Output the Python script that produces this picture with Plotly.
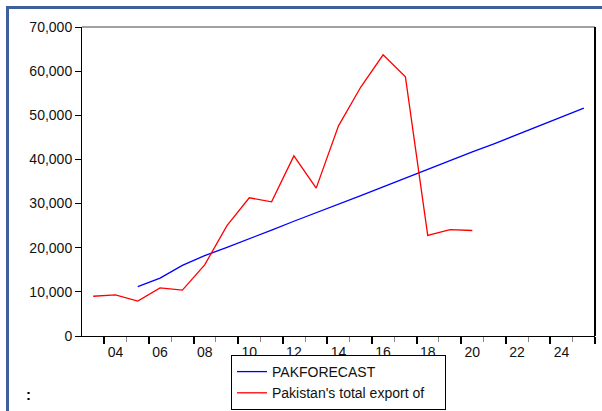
import plotly.graph_objects as go

# Annual values (US$ million)
years_export = list(range(2003, 2021))
export_values = [9000, 9300, 7900, 10900, 10400, 16100, 25000, 31300, 30400,
                 40800, 33500, 47600, 56400, 63700, 58700, 22800, 24100, 23900]

years_forecast = list(range(2005, 2026))
forecast_values = [11200, 13100, 16000, 18200, 20100, 22000, 24000, 26000, 27900,
                   29900, 31800, 33800, 35800, 37700, 39700, 41700, 43600, 45600,
                   47600, 49600, 51600]

label_years = list(range(2004, 2025, 2))
label_text = [f"{y % 100:02d}" for y in label_years]

y_ticks = list(range(0, 70001, 10000))

FONT = "Liberation Sans, Arial, sans-serif"
W, H = 602, 411
ML, MR, MT, MB = 82, 7, 27, 75
PW, PH = W - ML - MR, H - MT - MB

# year boundaries: dark ticks before even years, light ticks before odd years
dark_bounds = [y - 0.5 for y in range(2004, 2027, 2)]
light_bounds = [y - 0.5 for y in range(2005, 2026, 2)]
x_range = [2002.5, 2025.5]

# trailing no-break spaces widen the legend box a little
PAD = "\u00a0" * 4

fig = go.Figure()
fig.add_trace(go.Scatter(x=years_forecast, y=forecast_values, mode="lines",
                         name="PAKFORECAST", line=dict(color="#0000ff", width=1.3)))
fig.add_trace(go.Scatter(x=years_export, y=export_values, mode="lines",
                         name="Pakistan's total export of" + PAD,
                         line=dict(color="#ff0000", width=1.3)))
# helper trace so the boundary-tick axis is drawn
fig.add_trace(go.Scatter(x=[x_range[0]], y=[0], xaxis="x2", mode="markers",
                         marker=dict(opacity=0), showlegend=False, hoverinfo="skip"))

fig.update_layout(
    width=W, height=H,
    margin=dict(l=ML, r=MR, t=MT, b=MB, autoexpand=False),
    paper_bgcolor="white", plot_bgcolor="white",
    font=dict(family=FONT, size=14, color="#111111"),
    showlegend=True,
    legend=dict(
        x=(231 - ML) / PW, y=(MT + PH - 355) / PH, xanchor="left", yanchor="top",
        bordercolor="black", borderwidth=1, bgcolor="white",
        font=dict(family=FONT, size=14, color="#111111"),
        tracegroupgap=0, itemwidth=30,
    ),
    xaxis=dict(
        range=x_range, tickmode="array", tickvals=label_years, ticktext=label_text,
        ticks="outside", ticklen=3, tickcolor="rgba(0,0,0,0)",
        showline=True, linecolor="black", linewidth=1, mirror=False,
        showgrid=False, zeroline=False,
        tickfont=dict(family=FONT, size=14, color="#111111"),
        minor=dict(tickmode="array", tickvals=light_bounds, ticks="outside",
                   ticklen=5, tickcolor="#888888", tickwidth=1, showgrid=False),
    ),
    xaxis2=dict(
        range=x_range, overlaying="x", side="bottom", anchor="y",
        tickmode="array", tickvals=dark_bounds, ticks="outside", ticklen=7,
        tickcolor="black", tickwidth=2, showticklabels=False,
        showline=False, showgrid=False, zeroline=False,
    ),
    yaxis=dict(
        range=[0, 70000], tickmode="array", tickvals=y_ticks, tickformat=",",
        ticks="outside", ticklen=6, tickcolor="black",
        showline=True, linecolor="black", linewidth=1,
        showgrid=False, zeroline=False,
        tickfont=dict(family=FONT, size=14, color="#111111"),
    ),
    shapes=[
        # plot frame: top edge and right edge
        dict(type="line", xref="paper", yref="paper", x0=0, x1=1, y0=1, y1=1,
             line=dict(color="#444444", width=1)),
        dict(type="line", xref="paper", yref="paper", x0=1, x1=1, y0=0, y1=1,
             line=dict(color="black", width=2)),
        # outer page border (left and top)
        dict(type="line", xref="paper", yref="paper",
             x0=(7.5 - ML) / PW, x1=(7.5 - ML) / PW,
             y0=(MT + PH - 7) / PH, y1=(MT + PH - H - 5) / PH,
             line=dict(color="#3d5f9c", width=3)),
        dict(type="line", xref="paper", yref="paper",
             x0=(6 - ML) / PW, x1=(W + 5 - ML) / PW,
             y0=(MT + PH - 7.5) / PH, y1=(MT + PH - 7.5) / PH,
             line=dict(color="#3d5f9c", width=3)),
    ],
    annotations=[
        dict(text="<b>:</b>", xref="paper", yref="paper",
             x=(24 - ML) / PW, y=(MT + PH - 405) / PH,
             showarrow=False, font=dict(family=FONT, size=15, color="black")),
    ],
)

fig.write_html("out.html")
